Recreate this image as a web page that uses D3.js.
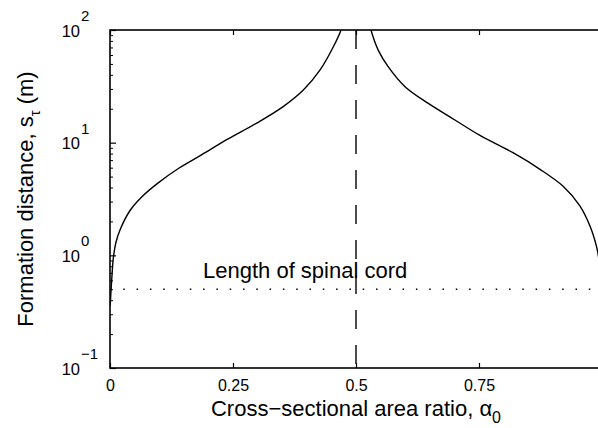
<!DOCTYPE html>
<html>
<head>
<meta charset="utf-8">
<script src="https://cdn.jsdelivr.net/npm/d3@7"></script>
<style>
  body { margin: 0; background: #fff; }
  svg { display: block; font-family: "Liberation Sans", Arial, Helvetica, sans-serif; }
</style>
</head>
<body>
<svg id="chart"></svg>
<script>
// left branch (alpha < 0.5)
const leftAlpha = [0.0005, 0.002, 0.0034, 0.0068, 0.012, 0.0203, 0.0407, 0.0644, 0.098, 0.139, 0.186, 0.240, 0.298, 0.352, 0.393, 0.427, 0.454, 0.4695, 0.475];
const leftS     = [0.36, 0.48, 0.60, 0.95, 1.3, 1.68, 2.5, 3.3, 4.4, 5.9, 7.8, 10.8, 14.9, 20.9, 29.3, 44.2, 71, 100, 125];
// right branch (alpha > 0.5)
const rightAlpha = [0.525, 0.5305, 0.5454, 0.5657, 0.5996, 0.647, 0.701, 0.752, 0.820, 0.874, 0.921, 0.955, 0.976, 0.989, 0.9925, 0.996, 0.9995];
const rightS     = [130, 100, 66, 47, 31.4, 22.3, 15.9, 11.6, 8.1, 5.8, 4.1, 2.75, 1.8, 1.19, 1.0, 0.75, 0.36];

const spinalLength = 0.5;   // m, dotted line
const midAlpha = 0.5;       // dashed line
const xTicks = [0, 0.25, 0.5, 0.75];
const yExps = [-1, 0, 1, 2];

const W = 598, H = 428;
const margin = {top: 30, right: -4, bottom: 60, left: 110};
const width = W - margin.left - margin.right;
const height = H - margin.top - margin.bottom;

const svg = d3.select("#chart").attr("width", W).attr("height", H);

const x = d3.scaleLinear().domain([0, 1]).range([0, width]);
const y = d3.scaleLog().domain([0.1, 100]).range([height, 0]);

svg.append("defs").append("clipPath").attr("id", "plotClip")
    .append("rect").attr("width", width).attr("height", height);

const g = svg.append("g").attr("transform", `translate(${margin.left},${margin.top})`);

// bottom axis, ticks inward
const xAxis = g.append("g")
    .attr("transform", `translate(0,${height})`)
    .call(d3.axisBottom(x).tickValues(xTicks).tickSizeInner(-5).tickSizeOuter(0)
        .tickPadding(12).tickFormat(d => String(d)));
xAxis.select(".domain").remove();
xAxis.selectAll("text").attr("font-size", 16).attr("font-family", null).attr("fill", "#000");
xAxis.selectAll("line").attr("stroke", "#000").attr("stroke-width", 1.2);

// top axis, ticks only
const xTop = g.append("g")
    .call(d3.axisTop(x).tickValues(xTicks).tickSizeInner(-5).tickSizeOuter(0).tickFormat(""));
xTop.select(".domain").remove();
xTop.selectAll("line").attr("stroke", "#000").attr("stroke-width", 1.2);

// left axis: minor + major log ticks
const minorTicks = [];
yExps.slice(0, -1).forEach(e => {
    for (let k = 2; k <= 9; k++) minorTicks.push(k * Math.pow(10, e));
});
const majorTicks = yExps.map(e => Math.pow(10, e));

const yMinor = g.append("g")
    .call(d3.axisLeft(y).tickValues(minorTicks).tickSizeInner(-3).tickSizeOuter(0).tickFormat(""));
yMinor.select(".domain").remove();
yMinor.selectAll("line").attr("stroke", "#000").attr("stroke-width", 1);

const yMajor = g.append("g")
    .call(d3.axisLeft(y).tickValues(majorTicks).tickSizeInner(-6).tickSizeOuter(0).tickFormat(""));
yMajor.select(".domain").remove();
yMajor.selectAll("line").attr("stroke", "#000").attr("stroke-width", 1.2);

// power-of-ten labels
const yLab = g.append("g").selectAll("g")
    .data(yExps)
    .enter().append("g")
    .attr("transform", e => `translate(0,${y(Math.pow(10, e))})`);
yLab.append("text")
    .attr("x", -30).attr("y", 6.5)
    .attr("text-anchor", "end")
    .attr("font-size", 16.5)
    .text("10");
yLab.append("text")
    .attr("x", -29).attr("y", -9)
    .attr("font-size", 15)
    .text(e => e < 0 ? "\u2212" + (-e) : String(e));

// frame
g.append("rect")
    .attr("width", width).attr("height", height)
    .attr("fill", "none").attr("stroke", "#000").attr("stroke-width", 1.6);

const plot = g.append("g").attr("clip-path", "url(#plotClip)");

const line = d3.line()
    .x(d => x(d[0]))
    .y(d => y(d[1]))
    .curve(d3.curveCatmullRom.alpha(0.5));

plot.append("path")
    .datum(d3.zip(leftAlpha, leftS))
    .attr("d", line)
    .attr("fill", "none").attr("stroke", "#000").attr("stroke-width", 1.4);

plot.append("path")
    .datum(d3.zip(rightAlpha, rightS))
    .attr("d", line)
    .attr("fill", "none").attr("stroke", "#000").attr("stroke-width", 1.4);

// spinal cord length (dotted)
plot.append("line")
    .attr("x1", x(0)).attr("x2", x(1))
    .attr("y1", y(spinalLength)).attr("y2", y(spinalLength))
    .attr("stroke", "#000").attr("stroke-width", 1.5)
    .attr("stroke-dasharray", "1.5,11.8");

// alpha = 0.5 (dashed)
plot.append("line")
    .attr("x1", x(midAlpha)).attr("x2", x(midAlpha))
    .attr("y1", 0).attr("y2", height)
    .attr("stroke", "#000").attr("stroke-width", 1.4)
    .attr("stroke-dasharray", "19,16");

g.append("text")
    .attr("x", 93).attr("y", y(spinalLength) - 11)
    .attr("font-size", 22)
    .text("Length of spinal cord");

// axis titles
const xTitle = svg.append("text")
    .attr("x", margin.left + x(0.5)).attr("y", 416)
    .attr("text-anchor", "middle")
    .attr("font-size", 22);
xTitle.append("tspan").text("Cross\u2212sectional area ratio, \u03b1");
xTitle.append("tspan").attr("font-size", 16).attr("dy", 7).text("0");

const yTitle = svg.append("text")
    .attr("transform", `translate(33,${margin.top + height / 2}) rotate(-90)`)
    .attr("text-anchor", "middle")
    .attr("font-size", 22);
yTitle.append("tspan").text("Formation distance, s");
yTitle.append("tspan").attr("font-size", 15).attr("dy", 7).text("\u03c4");
yTitle.append("tspan").attr("dy", -7).text(" (m)");
</script>
</body>
</html>
